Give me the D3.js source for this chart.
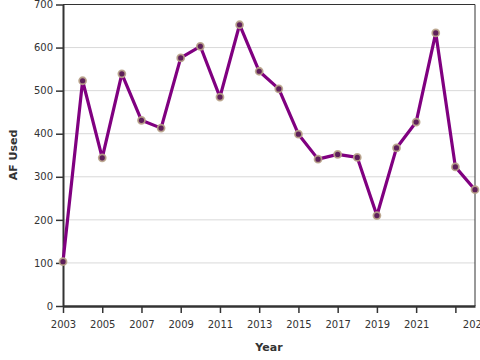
<!DOCTYPE html>
<html><head><meta charset="utf-8">
<script src="https://cdn.jsdelivr.net/npm/d3@7"></script>
<style>body{margin:0;background:#fff}svg{display:block}text{font-family:"DejaVu Sans",Verdana,sans-serif}</style>
</head><body><svg id="c" width="480" height="360"></svg>
<script>
const years = [2003,2004,2005,2006,2007,2008,2009,2010,2011,2012,2013,2014,2015,2016,2017,2018,2019,2020,2021,2022,2023,2024];
const afUsed = [103,523,344,539,431,413,576,603,485,653,545,504,399,341,352,345,210,367,427,634,323,270];
const yTicks = [0,100,200,300,400,500,600,700];
const xTicks = [2003,2005,2007,2009,2011,2013,2015,2017,2019,2021,2023,2024];
const xLabels = {2023:""};

const svg = d3.select("#c");
const m = {l:63, r:5, t:4.5, b:54};
const W = 480, H = 360;
const x = d3.scaleLinear().domain([2003,2024]).range([m.l, W-m.r]);
const y = d3.scaleLinear().domain([0,700]).range([H-m.b, m.t]);

// grid
svg.append("g").selectAll("line").data(yTicks.filter(d=>d>0&&d<700)).join("line")
  .attr("x1",m.l).attr("x2",W-m.r).attr("y1",d=>y(d)).attr("y2",d=>y(d))
  .attr("stroke","#d9d9d9").attr("stroke-width",1);

// frame top/right
svg.append("line").attr("x1",m.l).attr("x2",W-m.r).attr("y1",y(700)).attr("y2",y(700)).attr("stroke","#333").attr("stroke-width",1);
svg.append("line").attr("x1",W-m.r).attr("x2",W-m.r).attr("y1",y(700)).attr("y2",y(0)).attr("stroke","#333").attr("stroke-width",1);

// y axis
const ya = svg.append("g").attr("transform",`translate(${m.l},0)`)
  .call(d3.axisLeft(y).tickValues(yTicks).tickSize(7).tickPadding(3).tickSizeOuter(0));
ya.select(".domain").attr("stroke","#333").attr("stroke-width",2);
ya.selectAll(".tick line").attr("stroke","#333").attr("stroke-width",1.5);
ya.selectAll("text").attr("font-size",10).attr("fill","#333").attr("font-family","DejaVu Sans");

// x axis
const xa = svg.append("g").attr("transform",`translate(0,${H-m.b})`)
  .call(d3.axisBottom(x).tickValues(xTicks).tickSize(7).tickPadding(8).tickSizeOuter(0)
    .tickFormat(d=> (d in xLabels) ? xLabels[d] : String(d)));
xa.select(".domain").attr("stroke","#333").attr("stroke-width",2.5);
xa.selectAll(".tick line").attr("stroke","#333").attr("stroke-width",1.5);
xa.selectAll(".tick").filter(d=>d===2024).select("line").remove();
xa.selectAll("text").attr("font-size",10).attr("fill","#333").attr("font-family","DejaVu Sans");

// line
const data = years.map((yr,i)=>({yr, v:afUsed[i]}));
svg.append("path").datum(data)
  .attr("d", d3.line().x(d=>x(d.yr)).y(d=>y(d.v)))
  .attr("fill","none").attr("stroke","#800080").attr("stroke-width",3.2).attr("stroke-linejoin","round");

svg.append("g").selectAll("circle").data(data).join("circle")
  .attr("cx",d=>x(d.yr)).attr("cy",d=>y(d.v)).attr("r",3.5)
  .attr("fill","#5e1f5a").attr("stroke","#b9a48a").attr("stroke-opacity",0.9).attr("stroke-width",1.8);

// titles
svg.append("text").attr("x",269).attr("y",351).attr("text-anchor","middle")
  .attr("font-size",11).attr("font-weight","bold").attr("fill","#333").text("Year");
svg.append("text").attr("transform","translate(17,155) rotate(-90)").attr("text-anchor","middle")
  .attr("font-size",11).attr("font-weight","bold").attr("fill","#333").text("AF Used");
</script></body></html>
